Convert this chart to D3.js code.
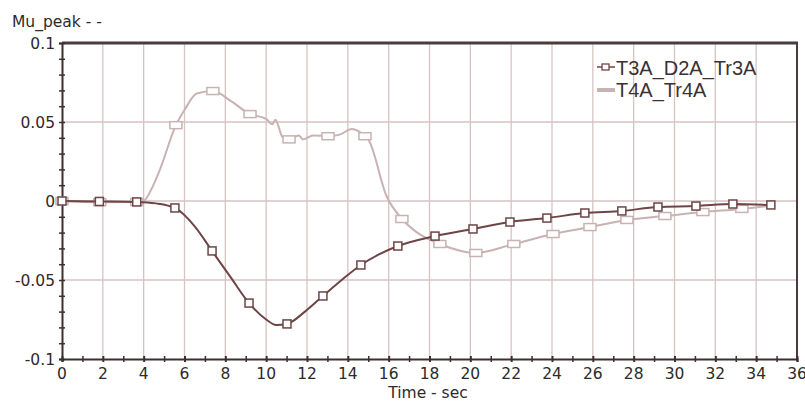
<!DOCTYPE html>
<html>
<head>
  <meta charset="utf-8">
  <title>Mu_peak</title>
  <style type="text/css">
    body { margin: 0; background: #fff; }
    svg { display: block; }
    .tick-label { font-family: "DejaVu Sans", sans-serif; font-size: 15.5px; fill: #2e2a2a; }
    .legend text { font-family: "Liberation Sans", Arial, sans-serif; font-size: 20px; fill: #3a3232; }
  </style>
  <script src="https://cdn.jsdelivr.net/npm/d3@7"></script>
</head>
<body>
<script>
  // series names
  var seriesNames = ['T3A_D2A_Tr3A', 'T4A_Tr4A'];

  // T3A_D2A_Tr3A : curve points [time, value]
  var s1Line = [[0, 0], [1.83, -0.0003], [3.66, -0.0006], [4.6, -0.0015], [5.53, -0.0044], [6.5, -0.016],
    [7.35, -0.0316], [8.3, -0.049], [9.16, -0.0646], [10.0, -0.075], [10.5, -0.0785], [11.02, -0.0778],
    [11.9, -0.070], [12.78, -0.0601], [13.7, -0.050], [14.64, -0.0405], [15.5, -0.034], [16.45, -0.0285],
    [18.27, -0.0222], [20.13, -0.0177], [21.94, -0.0133], [23.75, -0.0108], [25.61, -0.0076],
    [27.42, -0.0063], [29.19, -0.0038], [31.05, -0.0032], [32.86, -0.0019], [34.72, -0.0025]];
  // T3A_D2A_Tr3A : marker points
  var s1Marks = [[0, 0], [1.83, -0.0003], [3.66, -0.0006], [5.53, -0.0044], [7.35, -0.0316], [9.16, -0.0646],
    [11.02, -0.0778], [12.78, -0.0601], [14.64, -0.0405], [16.45, -0.0285], [18.27, -0.0222], [20.13, -0.0177],
    [21.94, -0.0133], [23.75, -0.0108], [25.61, -0.0076], [27.42, -0.0063], [29.19, -0.0038], [31.05, -0.0032],
    [32.86, -0.0019], [34.72, -0.0025]];

  // T4A_Tr4A : curve points
  var s2Line = [[0, 0], [1.85, -0.0008], [3.66, -0.0006], [4.0, 0.0], [4.4, 0.008], [4.8, 0.02], [5.58, 0.048],
    [6.0, 0.0576], [6.6, 0.068], [7.39, 0.0696], [8.3, 0.063], [9.21, 0.055], [10.0, 0.052], [10.3, 0.0485],
    [10.45, 0.0515], [10.8, 0.0405], [11.12, 0.039], [11.6, 0.0415], [11.8, 0.039], [12.3, 0.0415],
    [13.03, 0.041], [13.6, 0.042], [14.2, 0.0455], [14.84, 0.041], [15.0, 0.039], [15.9, 0.003],
    [16.65, -0.0114], [17.4, -0.02], [18.51, -0.0272], [20.27, -0.0329], [22.13, -0.0272], [24.05, -0.0209],
    [25.86, -0.0165], [27.67, -0.012], [29.53, -0.0095], [31.39, -0.007], [33.30, -0.005], [34.72, -0.003]];
  // T4A_Tr4A : marker points
  var s2Marks = [[0, 0], [1.85, -0.0008], [3.66, -0.0006], [5.58, 0.048], [7.39, 0.0696], [9.21, 0.055],
    [11.12, 0.039], [13.03, 0.041], [14.84, 0.041], [16.65, -0.0114], [18.51, -0.0272], [20.27, -0.0329],
    [22.13, -0.0272], [24.05, -0.0209], [25.86, -0.0165], [27.67, -0.012], [29.53, -0.0095], [31.39, -0.007],
    [33.30, -0.005]];

  var xTicks = d3.range(0, 37, 2);
  var yTicks = [0.1, 0.05, 0, -0.05, -0.1];

  var W = 805, H = 402,
    mLeft = 62, mRight = 797, mTop = 43, mBottom = 359;

  var x = d3.scaleLinear().domain([0, 36]).range([mLeft, mRight]);
  var y = d3.scaleLinear().domain([-0.1, 0.1]).range([mBottom, mTop]);

  var svg = d3.select('body').append('svg').attr('width', W).attr('height', H);

  var gridColor = '#d6c3c3', axisColor = '#3b3030';

  // grid
  svg.append('g').selectAll('line').data(xTicks.slice(1, -1)).join('line')
    .attr('x1', d => x(d)).attr('x2', d => x(d)).attr('y1', mTop).attr('y2', mBottom)
    .attr('stroke', gridColor).attr('stroke-width', 1.3);
  svg.append('g').selectAll('line').data(yTicks.slice(1, -1)).join('line')
    .attr('x1', mLeft).attr('x2', mRight).attr('y1', d => y(d)).attr('y2', d => y(d))
    .attr('stroke', gridColor).attr('stroke-width', 1.3);

  // frame: top and right border
  svg.append('line').attr('x1', mLeft).attr('x2', mRight + 1).attr('y1', mTop).attr('y2', mTop)
    .attr('stroke', '#4a3c3c').attr('stroke-width', 3);
  svg.append('line').attr('x1', mRight).attr('x2', mRight).attr('y1', mTop).attr('y2', mBottom)
    .attr('stroke', '#4a3c3c').attr('stroke-width', 2);

  // left axis with minor ticks
  var yAxis = d3.axisLeft(y).tickValues(d3.range(-10, 11).map(d => d / 100)).tickSize(3).tickFormat('');
  var gy = svg.append('g').attr('transform', 'translate(' + mLeft + ',0)').call(yAxis);
  gy.selectAll('.tick line').attr('x2', -3).attr('x1', 3).attr('stroke', axisColor).attr('stroke-width', 1.5);
  gy.select('.domain').attr('stroke', axisColor).attr('stroke-width', 2);

  // bottom axis with minor ticks
  var xAxis = d3.axisBottom(x).tickValues(d3.range(0, 37)).tickSize(3).tickFormat('');
  var gx = svg.append('g').attr('transform', 'translate(0,' + mBottom + ')').call(xAxis);
  gx.selectAll('.tick line').attr('y1', -3).attr('y2', 3).attr('stroke', axisColor)
    .attr('stroke-width', d => d % 2 === 0 ? 2 : 1.5);
  gx.select('.domain').attr('stroke', axisColor).attr('stroke-width', 2);

  // tick labels (plain hyphen minus, as in the original)
  svg.append('g').selectAll('text').data(yTicks).join('text')
    .attr('class', 'tick-label')
    .attr('x', 55).attr('y', d => y(d) + 5.5)
    .attr('text-anchor', 'end')
    .text(d => String(d));
  svg.append('g').selectAll('text').data(xTicks).join('text')
    .attr('class', 'tick-label')
    .attr('x', d => x(d)).attr('y', 379)
    .attr('text-anchor', 'middle')
    .text(d => d);

  // axis titles
  svg.append('text').attr('class', 'tick-label').attr('x', 12).attr('y', 27).text('Mu_peak - -');
  svg.append('text').attr('class', 'tick-label').attr('x', 428).attr('y', 398)
    .attr('text-anchor', 'middle').text('Time - sec');

  var line = d3.line().x(d => x(d[0])).y(d => y(d[1])).curve(d3.curveMonotoneX);

  var c1 = '#6d4545', c2 = '#c8b2b2';

  // T4A_Tr4A
  svg.append('path').datum(s2Line).attr('d', line)
    .attr('fill', 'none').attr('stroke', c2).attr('stroke-width', 2);
  svg.append('g').selectAll('rect').data(s2Marks).join('rect')
    .attr('x', d => x(d[0]) - 6).attr('y', d => y(d[1]) - 3.5)
    .attr('width', 12).attr('height', 7)
    .attr('fill', '#fff').attr('stroke', c2).attr('stroke-width', 1.5);

  // T3A_D2A_Tr3A
  svg.append('path').datum(s1Line).attr('d', line)
    .attr('fill', 'none').attr('stroke', c1).attr('stroke-width', 2);
  svg.append('g').selectAll('rect').data(s1Marks).join('rect')
    .attr('x', d => x(d[0]) - 4).attr('y', d => y(d[1]) - 4)
    .attr('width', 8).attr('height', 8)
    .attr('fill', '#fff').attr('stroke', c1).attr('stroke-width', 1.5);

  // legend
  var lg = svg.append('g').attr('class', 'legend');
  lg.append('line').attr('x1', 597).attr('x2', 615).attr('y1', 67).attr('y2', 67)
    .attr('stroke', c1).attr('stroke-width', 1.5);
  lg.append('rect').attr('x', 602).attr('y', 64).attr('width', 7).attr('height', 6)
    .attr('fill', '#fff').attr('stroke', c1).attr('stroke-width', 1.3);
  lg.append('line').attr('x1', 597).attr('x2', 615).attr('y1', 90).attr('y2', 90)
    .attr('stroke', c2).attr('stroke-width', 4);
  lg.append('text').attr('x', 616).attr('y', 75).text(seriesNames[0]);
  lg.append('text').attr('x', 616).attr('y', 97).text(seriesNames[1]);
</script>
</body>
</html>
